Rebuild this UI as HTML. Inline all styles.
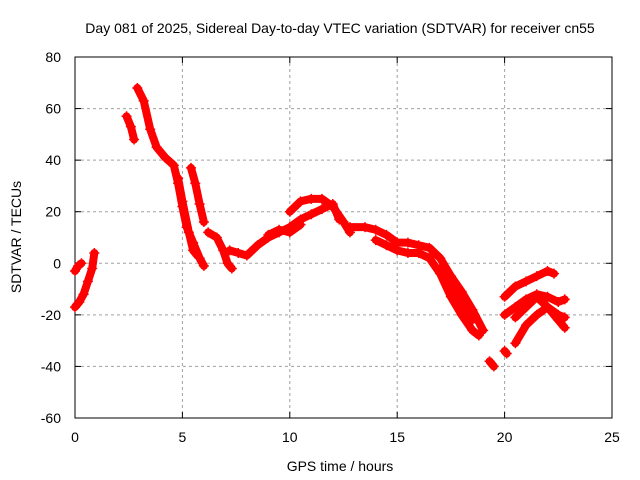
<!DOCTYPE html>
<html><head><meta charset="utf-8"><style>
body{margin:0;background:#fff}
svg{display:block;font-family:"Liberation Sans",sans-serif}
</style></head><body>
<svg id="chart" width="640" height="480">
<text x="340" y="33" text-anchor="middle" font-size="14">Day 081 of 2025, Sidereal Day-to-day VTEC variation (SDTVAR) for receiver cn55</text>
<text x="340" y="471" text-anchor="middle" font-size="14">GPS time / hours</text>
<text transform="translate(21,237) rotate(-90)" text-anchor="middle" font-size="14">SDTVAR / TECUs</text>
<g id="grid"></g>
<g id="axes"></g>
<g id="series"></g>
</svg>
<script>
const xTicks=[0,5,10,15,20,25];
const yTicks=[-60,-40,-20,0,20,40,60,80];
const trackA=[[0,-17],[0.2,-15],[0.4,-12],[0.6,-7],[0.8,-2],[0.9,4]];
const trackA2=[[0,-3],[0.15,-1],[0.3,0]];
const trackB=[[2.4,57],[2.6,53],[2.75,48]];
const trackC=[[2.9,68],[3.2,63],[3.5,52],[3.8,45],[4.2,41],[4.6,38],[4.8,31],[5.0,22],[5.2,14],[5.5,8],[5.8,2],[6.0,-1]];
const trackC2=[[4.8,33],[5.0,24],[5.3,12],[5.5,5],[5.7,3]];
const trackD=[[5.4,37],[5.6,31],[5.8,23],[6.0,16]];
const trackE=[[6.2,12],[6.6,10],[6.9,5],[7.1,0],[7.3,-2]];
const trackF=[[7.2,5],[7.6,4],[8,3],[8.5,7],[9,10],[9.5,12],[10,14],[10.5,17],[11,19],[11.5,21],[12,23],[12.3,17]];
const trackF2=[[9,11],[9.5,13],[10,12],[10.5,15]];
const trackG=[[10,20],[10.5,24],[11,25],[11.5,25],[12,22],[12.5,16],[12.8,12]];
const trackH=[[12.8,14],[13.5,14],[14,13],[14.5,11],[15,8],[15.5,8],[16,7],[16.5,6],[17,2],[17.5,-5],[18,-11],[18.5,-18],[19,-26]];
const trackI=[[14,9],[14.5,7],[15,5],[15.5,4],[16,4],[16.5,2],[17,-4],[17.5,-13],[18,-20],[18.5,-26],[18.8,-28]];
const trackI2=[[17,-2],[17.5,-9],[18,-14],[18.5,-22]];
const trackJ=[[19.3,-38],[19.5,-40]];
const trackK=[[20,-34],[20.1,-35]];
const trackL=[[20,-13],[20.5,-9],[21,-7],[21.5,-5],[22,-3],[22.3,-4]];
const trackM=[[20,-20],[20.5,-17],[21,-14],[21.5,-12],[22,-13],[22.5,-15],[22.8,-14]];
const trackN=[[20.5,-21],[21,-17],[21.5,-13],[22,-17],[22.5,-22],[22.8,-25]];
const trackO=[[20.5,-31],[21,-24],[21.5,-20],[22,-17],[22.5,-20],[22.8,-21]];
const tracks=[trackA,trackA2,trackB,trackC,trackC2,trackD,trackE,trackF,trackF2,trackG,trackH,trackI,trackI2,trackJ,trackK,trackL,trackM,trackN,trackO];
const L=75,R=612,T=57,B=418;
function X(h){return L+(h-0)/25*(R-L);}
function Y(v){return B-(v+60)/140*(B-T);}
const NS="http://www.w3.org/2000/svg";
function mk(t,a,p){const e=document.createElementNS(NS,t);for(const k in a)e.setAttribute(k,a[k]);p.appendChild(e);return e;}
const grid=document.getElementById('grid'),axes=document.getElementById('axes'),series=document.getElementById('series');
xTicks.forEach(t=>{
 if(t>0&&t<25){const g=mk('line',{x1:X(t),x2:X(t),y1:T,y2:B,stroke:'#a0a0a0','stroke-dasharray':'3,3'},grid);
 
 }
 const tx=mk('text',{x:X(t),y:B+24,'text-anchor':'middle','font-size':14},axes);tx.textContent=t;
 
 
 mk('line',{x1:X(t),x2:X(t),y1:B,y2:B-6,stroke:'#000'},axes);
 mk('line',{x1:X(t),x2:X(t),y1:T,y2:T+6,stroke:'#000'},axes);
});
yTicks.forEach(t=>{
 if(t>-60&&t<80){const g=mk('line',{x1:L,x2:R,y1:Y(t),y2:Y(t),stroke:'#a0a0a0','stroke-dasharray':'3,3'},grid);
 
 }
 const tx=mk('text',{x:L-14,y:Y(t)+5,'text-anchor':'end','font-size':14},axes);tx.textContent=t;
 
 
 mk('line',{x1:L,x2:L+6,y1:Y(t),y2:Y(t),stroke:'#000'},axes);
 mk('line',{x1:R,x2:R-6,y1:Y(t),y2:Y(t),stroke:'#000'},axes);
});
mk('rect',{x:L,y:T,width:R-L,height:B-T,fill:'none',stroke:'#000'},axes);
tracks.forEach(tr=>{
 const pl=mk('polyline',{points:tr.map(p=>X(p[0])+','+Y(p[1])).join(' '),fill:'none',stroke:'#f00','stroke-width':8,'stroke-linejoin':'round','stroke-linecap':'round'},series);
 
 
 tr.forEach(p=>{const x=X(p[0]),y=Y(p[1]);
  const m=mk('path',{d:`M${x-5},${y}H${x+5}M${x},${y-5}V${y+5}`,stroke:'#f00','stroke-width':1.5},series);
  
  });
});
</script>
</body></html>
